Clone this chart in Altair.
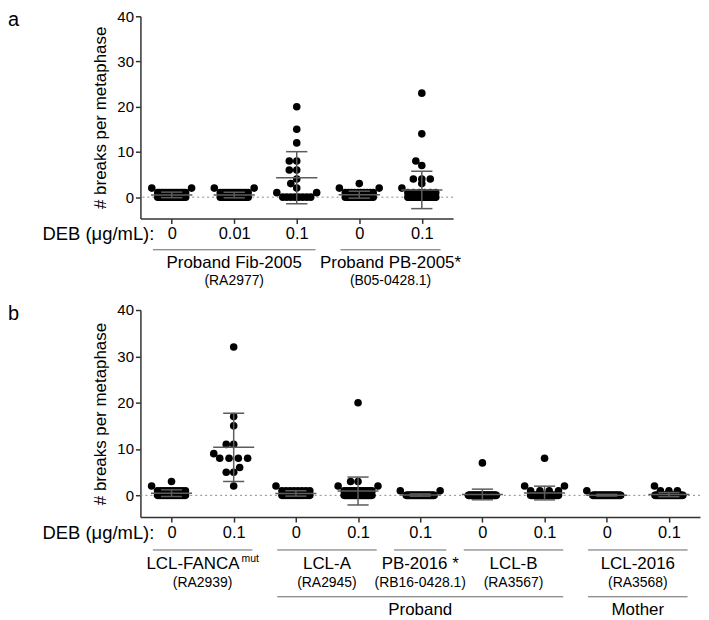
import math
import altair as alt
import numpy as np
import pandas as pd

FONT = "Liberation Sans"
Y_MIN, Y_MAX = -4.7, 40
Y_TICKS = [0, 10, 20, 30, 40]
Y_TITLE = "# breaks per metaphase"
DEB_LABEL = "DEB (μg/mL):"

# ---- panel a : frequency tables {breaks per metaphase: number of metaphases}
A_DOSES = ["0", "0.01", "0.1", "0", "0.1"]
A_FIB_0 = {0: 20, 1: 14, 2: 2}
A_FIB_001 = {0: 20, 1: 12, 2: 2}
A_FIB_01 = {0: 8, 1: 2, 2: 1, 3: 1, 4: 1, 6: 2, 8: 2, 12: 1, 15: 1, 20: 1}
A_PB_0 = {0: 18, 1: 10, 2: 2, 3: 1}
A_PB_01 = {0: 32, 1: 6, 2: 1, 3: 1, 4: 3, 7: 1, 8: 1, 14: 1, 23: 1}
A_GROUPS = [A_FIB_0, A_FIB_001, A_FIB_01, A_PB_0, A_PB_01]
A_L1_TEXT = ["Proband Fib-2005", "Proband PB-2005*"]
A_L1_SUP = ["", ""]
A_L1_SUB = ["(RA2977)", "(B05-0428.1)"]
A_L1_SPAN = [(0, 2), (3, 4)]

# ---- panel b
B_DOSES = ["0", "0.1", "0", "0.1", "0.1", "0", "0.1", "0", "0.1"]
B_FANCA_0 = {0: 20, 1: 10, 2: 1, 3: 1}
B_FANCA_01 = {2: 1, 5: 2, 6: 1, 8: 4, 9: 1, 11: 2, 15: 1, 17: 1, 32: 1}
B_LCLA_0 = {0: 15, 1: 8, 2: 1}
B_LCLA_01 = {0: 28, 1: 12, 2: 2, 3: 2, 20: 1}
B_PB2016_01 = {0: 30, 1: 2}
B_LCLB_0 = {0: 36, 7: 1}
B_LCLB_01 = {0: 25, 1: 4, 2: 2, 8: 1}
B_LCL2016_0 = {0: 30, 1: 1}
B_LCL2016_01 = {0: 28, 1: 3, 2: 1}
B_GROUPS = [B_FANCA_0, B_FANCA_01, B_LCLA_0, B_LCLA_01, B_PB2016_01,
            B_LCLB_0, B_LCLB_01, B_LCL2016_0, B_LCL2016_01]
B_L1_TEXT = ["LCL-FANCA", "LCL-A", "PB-2016 *", "LCL-B", "LCL-2016"]
B_L1_SUP = ["mut", "", "", "", ""]
B_L1_SUB = ["(RA2939)", "(RA2945)", "(RB16-0428.1)", "(RA3567)", "(RA3568)"]
B_L1_SPAN = [(0, 1), (2, 3), (4, 4), (5, 6), (7, 8)]
B_L2_TEXT = ["Proband", "Mother"]
B_L2_SPAN = [(2, 6), (7, 8)]


def swarm(freq, ppu, D=8.5, W=14.0, deff=7.5, cap=21.0, step=0.5):
    """Deterministic beeswarm layout: returns (x offset px, value) pairs."""
    placed = []
    out = []
    cands = [0.0]
    for j in range(1, int(cap / step) + 1):
        cands += [-j * step, j * step]
    for v in sorted(freq):
        n = freq[v]
        y = v * ppu
        if n >= 3:
            if n * D > 2 * W:
                xs = list(np.linspace(-W, W, n))
            else:
                xs = list((np.arange(n) - (n - 1) / 2) * D)
            for x in xs:
                out.append((x, v))
            placed += [(x, y) for x in xs]
        else:
            for _ in range(n):
                best, bestd = 0.0, -1.0
                for c in cands:
                    dmin = min((math.hypot(c - px, y - py) for px, py in placed),
                               default=1e9)
                    if dmin >= deff:
                        best = c
                        break
                    if dmin > bestd:
                        bestd, best = dmin, c
                placed.append((best, y))
                out.append((best, v))
    return out


def panel(groups, doses, width, H, letter, l1_text, l1_sup, l1_sub, l1_span,
          yl, l2_text=None, l2_span=None):
    n = len(groups)
    bw = width / n
    ppu = H / (Y_MAX - Y_MIN)
    rows = []
    for g, freq in enumerate(groups):
        for xo, v in swarm(freq, ppu):
            rows.append({"g": g, "pos": g + xo / bw, "v": v})
    df = pd.DataFrame(rows)

    xs = alt.Scale(domain=[-0.5, n - 0.5], nice=False, zero=False)
    ys = alt.Scale(domain=[Y_MIN, Y_MAX], nice=False, zero=False)
    label_expr = "[" + ",".join("'%s'" % d for d in doses) + "][datum.value]"
    xaxis = alt.Axis(values=list(range(n)), labelExpr=label_expr, title=None,
                     labelFontSize=16.5, labelPadding=2)
    yaxis = alt.Axis(values=Y_TICKS, title=Y_TITLE, labelFontSize=15,
                     labelPadding=2, titleFontSize=17, titlePadding=7)

    def X(f):
        return alt.X(f, scale=xs, axis=xaxis)

    def Y(f):
        return alt.Y(f, scale=ys, axis=yaxis)

    zero = alt.Chart(pd.DataFrame({"z": [0]})).mark_rule(
        color="#8a8a8a", strokeDash=[2, 3], strokeWidth=1
    ).encode(y=Y("z:Q"))

    pts = alt.Chart(df).mark_circle(size=58, color="black", opacity=1).encode(
        x=X("pos:Q"), y=Y("v:Q"))

    base = alt.Chart(df).transform_aggregate(
        m="mean(v)", s="stdev(v)", groupby=["g"]
    ).transform_calculate(
        lo="datum.m - datum.s", hi="datum.m + datum.s",
        cl="datum.g - 0.17", cr="datum.g + 0.17",
        ml="datum.g - 0.33", mr="datum.g + 0.33",
    )
    eb = dict(color="#5c5c5c", strokeWidth=1.5)
    vert = base.mark_rule(**eb).encode(x=X("g:Q"), y=Y("lo:Q"), y2="hi:Q")
    cap_hi = base.mark_rule(**eb).encode(x=X("cl:Q"), x2="cr:Q", y=Y("hi:Q"))
    cap_lo = base.mark_rule(**eb).encode(x=X("cl:Q"), x2="cr:Q", y=Y("lo:Q"))
    mean = base.mark_rule(**eb).encode(x=X("ml:Q"), x2="mr:Q", y=Y("m:Q"))

    deb = alt.Chart(pd.DataFrame({"t": [DEB_LABEL]})).mark_text(
        align="right", baseline="middle", fontSize=18.5, font=FONT
    ).encode(x=alt.value(14), y=alt.value(H + 16), text="t:N")

    def pad(s, e):
        return 0.3 if e > s else 0.42

    d1 = pd.DataFrame({
        "x1": [s - pad(s, e) for s, e in l1_span],
        "x2": [e + pad(s, e) for s, e in l1_span],
        "xc": [(s + e) / 2 for s, e in l1_span],
        "label": l1_text, "sup": l1_sup, "sub": l1_sub,
    })
    rule1 = alt.Chart(d1).mark_rule(color="#666", strokeWidth=1).encode(
        x=X("x1:Q"), x2="x2:Q", y=alt.value(H + yl[0]))
    text1 = alt.Chart(d1).transform_filter("datum.sup == ''").mark_text(
        fontSize=17, font=FONT, baseline="middle"
    ).encode(x=X("xc:Q"), y=alt.value(H + yl[1]), text="label:N")
    text1s = alt.Chart(d1).transform_filter("datum.sup != ''").mark_text(
        fontSize=17, font=FONT, baseline="middle", align="right", dx=37
    ).encode(x=X("xc:Q"), y=alt.value(H + yl[1]), text="label:N")
    sup1 = alt.Chart(d1).transform_filter("datum.sup != ''").mark_text(
        fontSize=10.5, font=FONT, baseline="middle", align="left", dx=39
    ).encode(x=X("xc:Q"), y=alt.value(H + yl[1] - 5), text="sup:N")
    sub1 = alt.Chart(d1).mark_text(fontSize=14, font=FONT, baseline="middle").encode(
        x=X("xc:Q"), y=alt.value(H + yl[2]), text="sub:N")

    let = alt.Chart(pd.DataFrame({"t": [letter]})).mark_text(
        align="left", baseline="alphabetic", fontSize=20, font=FONT
    ).encode(x=alt.value(-133), y=alt.value(10), text="t:N")

    layers = [zero, pts, vert, cap_hi, cap_lo, mean, deb, rule1, text1, text1s,
              sup1, sub1, let]
    if l2_text:
        d2 = pd.DataFrame({
            "x1": [s - 0.3 for s, e in l2_span],
            "x2": [e + 0.3 for s, e in l2_span],
            "xc": [(s + e) / 2 for s, e in l2_span],
            "label": l2_text,
        })
        rule2 = alt.Chart(d2).mark_rule(color="#666", strokeWidth=1).encode(
            x=X("x1:Q"), x2="x2:Q", y=alt.value(H + yl[3]))
        text2 = alt.Chart(d2).mark_text(fontSize=17, font=FONT, baseline="middle").encode(
            x=X("xc:Q"), y=alt.value(H + yl[4]), text="label:N")
        layers += [rule2, text2]
    return alt.layer(*layers).properties(width=width, height=H)


pa = panel(A_GROUPS, A_DOSES, 314, 203, "a", A_L1_TEXT, A_L1_SUP, A_L1_SUB,
           A_L1_SPAN, yl=(31.5, 45, 62.5))
pb = panel(B_GROUPS, B_DOSES, 562, 208, "b", B_L1_TEXT, B_L1_SUP, B_L1_SUB,
           B_L1_SPAN, yl=(33, 47, 66, 80, 93),
           l2_text=B_L2_TEXT, l2_span=B_L2_SPAN)

chart = alt.vconcat(pa, pb, spacing=15).properties(
    padding={"left": 0, "top": 0, "right": 0, "bottom": 0}
).configure_view(stroke=None).configure_axis(
    domainColor="#333", domainWidth=1.5, tickColor="#333", tickWidth=1.5,
    tickSize=5, labelColor="black", labelFont=FONT, titleFont=FONT,
    titleFontWeight="normal", titleColor="black", grid=False,
).configure_text(color="black")

chart.save("out.html", embed_options={"renderer": "svg", "actions": False})
